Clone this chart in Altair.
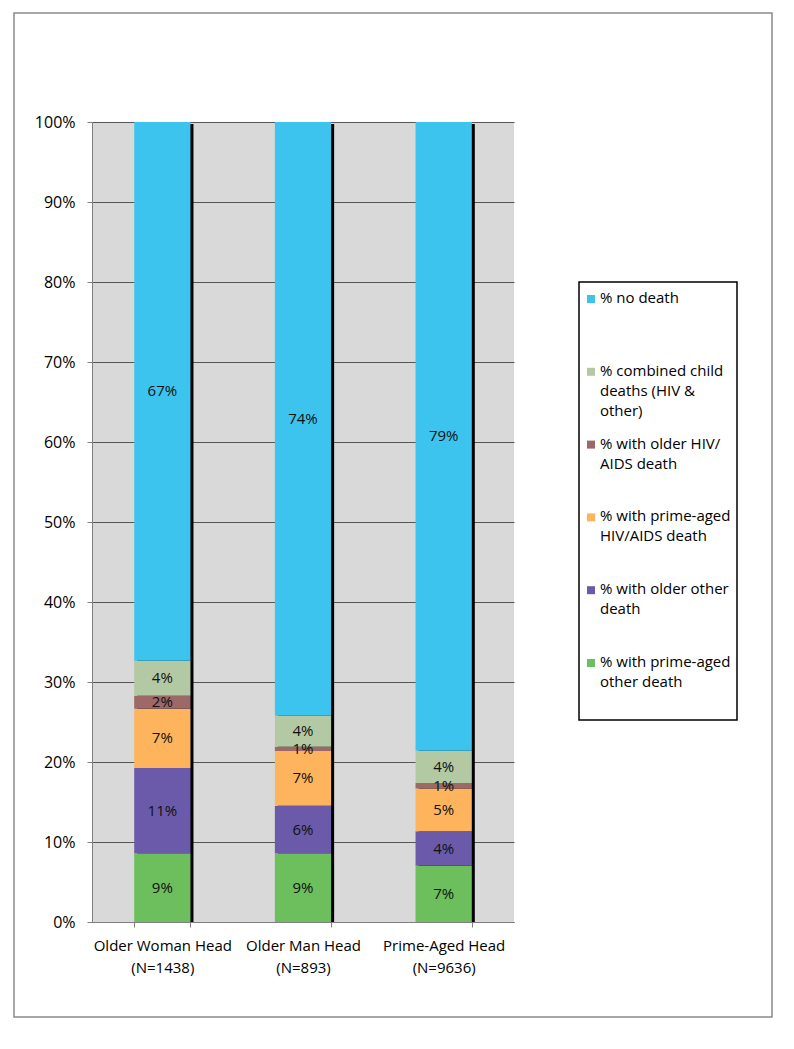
import altair as alt
import pandas as pd

groups = ["Older Woman Head|(N=1438)", "Older Man Head|(N=893)", "Prime-Aged Head|(N=9636)"]

# stack order, bottom to top
categories = [
    "% with prime-aged|other death",
    "% with older other|death",
    "% with prime-aged|HIV/AIDS death",
    "% with older HIV/|AIDS death",
    "% combined child|deaths (HIV &|other)",
    "% no death",
]
colors = ["#6cbf5c", "#6a5aa9", "#fdb45d", "#9c6868", "#b3c9a3", "#3cc4ee"]

woman = [8.58, 10.67, 7.41, 1.63, 4.37, 67.34]
man = [8.58, 5.96, 6.83, 0.54, 3.88, 74.21]
prime = [7.04, 4.29, 5.37, 0.67, 4.04, 78.59]
series = [woman, man, prime]

rows = []
for g, vals in zip(groups, series):
    cum = 0.0
    for i, (c, v) in enumerate(zip(categories, vals)):
        rows.append({"group": g, "category": c, "order": i, "value": v,
                     "y0": cum, "y1": cum + v, "mid": cum + v / 2,
                     "label": f"{round(v):d}%"})
        cum += v
df = pd.DataFrame(rows)
shadow = pd.DataFrame({"group": groups, "top": [sum(s) for s in series], "bottom": [0] * 3})

legend_order = list(reversed(categories))
legend_colors = list(reversed(colors))
legend_df = pd.DataFrame({"category": legend_order, "slot": list(range(len(legend_order)))})

FONT = "Open Sans"
color_scale = alt.Scale(domain=legend_order, range=legend_colors)

xenc = alt.X("group:N", sort=groups, title=None,
             scale=alt.Scale(paddingInner=0.6, paddingOuter=0.3),
             axis=alt.Axis(labelExpr="split(datum.label, '|')", labelAngle=0,
                           labelFontSize=15, labelFont=FONT, labelColor="#000000",
                           labelLineHeight=22, labelPadding=11, tickBand="extent",
                           tickSize=5, tickColor="#7f7f7f", domainColor="#7f7f7f",
                           grid=False, labelLimit=300))
yscale = alt.Scale(domain=[0, 100], nice=False)
yaxis = alt.Axis(values=list(range(0, 101, 10)), labelExpr="datum.value + '%'",
                 labelFontSize=16, labelFont=FONT, labelColor="#000000",
                 labelPadding=12, tickSize=5, tickColor="#7f7f7f",
                 domainColor="#7f7f7f", grid=True, gridColor="#555555",
                 gridWidth=1, title=None)

shadow_layer = alt.Chart(shadow).mark_bar(color="#000000", xOffset=3, yOffset=2, clip=True).encode(
    x=xenc,
    y=alt.Y("top:Q", scale=yscale, axis=yaxis),
    y2="bottom:Q",
)

bars = alt.Chart(df).mark_bar().encode(
    x=xenc,
    y=alt.Y("y0:Q", scale=yscale, axis=yaxis),
    y2="y1:Q",
    color=alt.Color("category:N", scale=color_scale, legend=None),
)

text = alt.Chart(df).mark_text(font=FONT, fontSize=15, color="#111111", baseline="middle").encode(
    x=xenc,
    y=alt.Y("mid:Q", scale=yscale, axis=yaxis),
    text="label:N",
)

main = alt.layer(shadow_layer, bars, text)

# legend drawn as marks
slot_scale = alt.Scale(type="point", padding=0,
                       domain=list(range(len(legend_order))), range=[177, 541])

legend_box = alt.Chart(pd.DataFrame({"k": [0]})).mark_rect(
    fill="#ffffff", stroke="#000000", strokeWidth=1.5
).encode(x=alt.value(487), x2=alt.value(645), y=alt.value(160), y2=alt.value(598))

legend_symbols = alt.Chart(legend_df).mark_square(size=64, opacity=1).encode(
    x=alt.value(499),
    y=alt.Y("slot:O", scale=slot_scale, axis=None),
    color=alt.Color("category:N", scale=color_scale, legend=None),
)

legend_text = alt.Chart(legend_df).mark_text(
    font=FONT, fontSize=15, color="#000000", align="left", baseline="line-top",
    lineBreak="|", lineHeight=20, dy=-10,
).encode(
    x=alt.value(508),
    y=alt.Y("slot:O", scale=slot_scale, axis=None),
    text="category:N",
)

legend = alt.layer(legend_box, legend_symbols, legend_text)

frame = alt.Chart(pd.DataFrame({"k": [0]})).mark_rect(
    fill="transparent", stroke="#8a8a8a", strokeWidth=1.5
).encode(
    x=alt.value(-78), x2=alt.value(680), y=alt.value(-109), y2=alt.value(895)
)

chart = alt.layer(main, legend, frame).resolve_scale(y="independent").properties(
    width=422, height=800,
    padding={"left": 5, "top": 4, "right": 5, "bottom": 5},
).configure_view(fill="#d9d9d9", strokeWidth=0)

chart.save("out.html", embed_options={"renderer": "svg", "actions": False})
